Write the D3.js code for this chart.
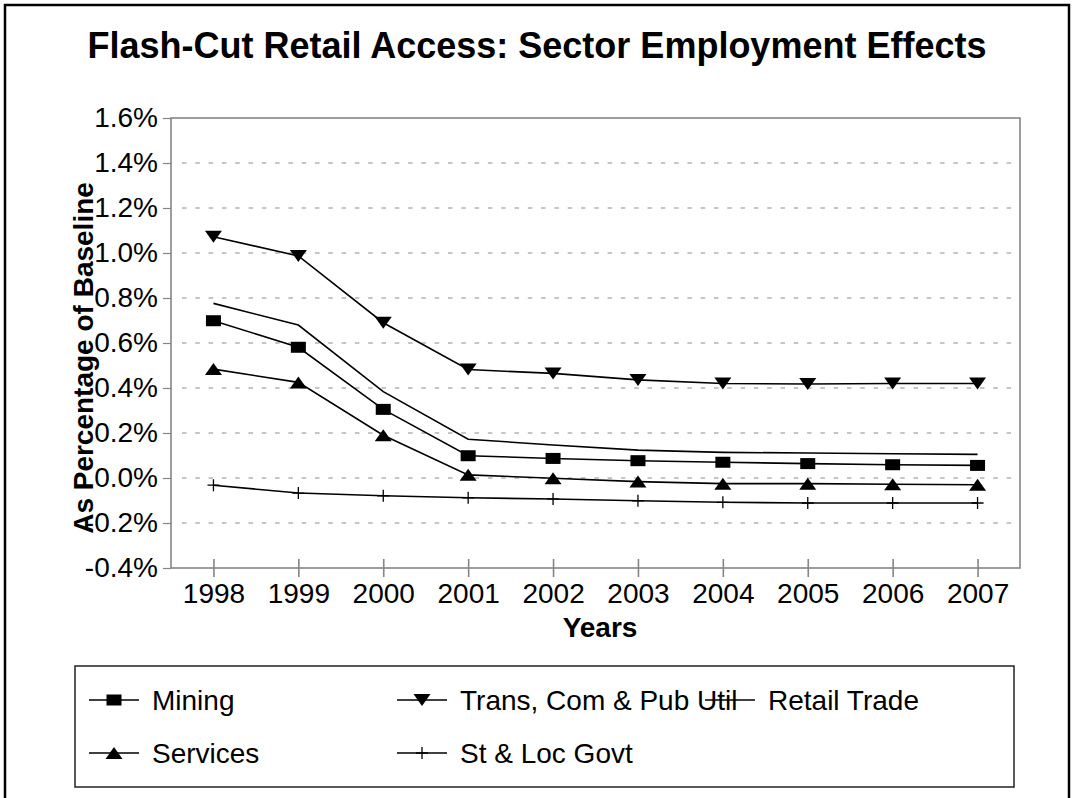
<!DOCTYPE html>
<html>
<head>
<meta charset="utf-8">
<script src="https://cdn.jsdelivr.net/npm/d3@7"></script>
<style>
  html, body { margin: 0; padding: 0; background: #ffffff; }
  svg { display: block; font-family: "Liberation Sans", Arial, Helvetica, sans-serif; }
</style>
</head>
<body>
<svg id="chart" width="1073" height="798"></svg>
<script>
// Sector employment effects, percent of baseline, 1998-2007
const years = ["1998", "1999", "2000", "2001", "2002", "2003", "2004", "2005", "2006", "2007"];
const mining   = [0.699, 0.581, 0.305, 0.099, 0.087, 0.077, 0.070, 0.064, 0.059, 0.056];
const transCom = [1.072, 0.987, 0.690, 0.482, 0.465, 0.436, 0.420, 0.418, 0.420, 0.420];
const retail   = [0.776, 0.680, 0.384, 0.172, 0.147, 0.124, 0.114, 0.111, 0.108, 0.105];
const services = [0.484, 0.425, 0.190, 0.014, -0.001, -0.016, -0.025, -0.025, -0.028, -0.030];
const stLoc    = [-0.032, -0.067, -0.079, -0.088, -0.093, -0.101, -0.108, -0.111, -0.111, -0.111];
const yTicks   = [-0.4, -0.2, 0.0, 0.2, 0.4, 0.6, 0.8, 1.0, 1.2, 1.4, 1.6];
const seriesNames = ["Mining", "Trans, Com & Pub Util", "Retail Trade", "Services", "St & Loc Govt"];
const seriesMarkers = ["square", "triDown", "none", "triUp", "plus"];
const seriesValues = [mining, transCom, retail, services, stLoc];

const svg = d3.select("#chart");
const plot = { left: 171, right: 1020, top: 118, bottom: 568 };
const axisGray = "#858585";
const labelSize = 28;

// Outer frame
svg.append("rect")
  .attr("x", 5).attr("y", 5).attr("width", 1064).attr("height", 820)
  .attr("fill", "#fff").attr("stroke", "#000").attr("stroke-width", 2.5);

// Title
svg.append("text")
  .attr("x", 537).attr("y", 58)
  .attr("text-anchor", "middle")
  .attr("font-weight", "bold").attr("font-size", 36)
  .text("Flash-Cut Retail Access: Sector Employment Effects");

const x = d3.scalePoint().domain(years).range([plot.left, plot.right]).padding(0.5);
const y = d3.scaleLinear().domain([-0.4, 1.6]).range([plot.bottom, plot.top]);

// Horizontal dashed gridlines
svg.append("g").selectAll("line")
  .data(yTicks.filter(v => v > -0.4 && v < 1.6))
  .join("line")
  .attr("x1", plot.left + 11).attr("x2", plot.right)
  .attr("y1", d => y(d)).attr("y2", d => y(d))
  .attr("stroke", "#8c8c8c").attr("stroke-width", 1)
  .attr("stroke-dasharray", "4.5,8.8");

// Plot frame
svg.append("rect")
  .attr("x", plot.left).attr("y", plot.top)
  .attr("width", plot.right - plot.left).attr("height", plot.bottom - plot.top)
  .attr("fill", "none").attr("stroke", axisGray).attr("stroke-width", 1.6);

// Y axis
const yAxis = svg.append("g")
  .attr("transform", `translate(${plot.left},0)`)
  .call(d3.axisLeft(y).tickValues(yTicks).tickSize(8).tickPadding(5)
    .tickFormat(v => v.toFixed(1) + "%"));
yAxis.select(".domain").remove();
yAxis.selectAll(".tick line").attr("stroke", axisGray).attr("stroke-width", 1.2);
yAxis.selectAll(".tick text")
  .attr("font-size", labelSize).attr("font-family", "Liberation Sans, Arial, sans-serif")
  .attr("fill", "#000");

// X axis (ticks cross the axis line)
const xAxis = svg.append("g")
  .attr("transform", `translate(0,${plot.bottom})`)
  .call(d3.axisBottom(x).tickSize(9).tickPadding(0));
xAxis.select(".domain").remove();
xAxis.selectAll(".tick line").attr("y1", -9).attr("y2", 9)
  .attr("stroke", axisGray).attr("stroke-width", 1.6);
xAxis.selectAll(".tick text")
  .attr("y", 35).attr("dy", 0)
  .attr("font-size", labelSize).attr("font-family", "Liberation Sans, Arial, sans-serif")
  .attr("fill", "#000");

// Axis titles
svg.append("text")
  .attr("x", 600).attr("y", 637)
  .attr("text-anchor", "middle")
  .attr("font-weight", "bold").attr("font-size", labelSize)
  .text("Years");
svg.append("text")
  .attr("transform", "translate(93,358) rotate(-90)")
  .attr("text-anchor", "middle")
  .attr("font-weight", "bold").attr("font-size", labelSize)
  .text("As Percentage of Baseline");

// Marker shapes
function drawMarker(g, kind, cx, cy) {
  if (kind === "square") {
    g.append("rect").attr("x", cx - 7.5).attr("y", cy - 5.5)
      .attr("width", 15).attr("height", 11).attr("fill", "#000");
  } else if (kind === "triDown") {
    g.append("path")
      .attr("d", `M${cx - 8.5},${cy - 6}L${cx + 8.5},${cy - 6}L${cx},${cy + 6}Z`)
      .attr("fill", "#000");
  } else if (kind === "triUp") {
    g.append("path")
      .attr("d", `M${cx - 8.5},${cy + 6}L${cx + 8.5},${cy + 6}L${cx},${cy - 6}Z`)
      .attr("fill", "#000");
  } else if (kind === "plus") {
    g.append("path")
      .attr("d", `M${cx - 6},${cy}L${cx + 6},${cy}M${cx},${cy - 6}L${cx},${cy + 6}`)
      .attr("stroke", "#000").attr("stroke-width", 1.3).attr("fill", "none");
  }
}

// Series lines and markers
const line = d3.line().x((d, i) => x(years[i])).y(d => y(d));
seriesValues.forEach((vals, s) => {
  const g = svg.append("g");
  g.append("path").datum(vals)
    .attr("d", line)
    .attr("fill", "none").attr("stroke", "#000").attr("stroke-width", 1.6);
  vals.forEach((v, i) => drawMarker(g, seriesMarkers[s], x(years[i]), y(v)));
});

// Legend
svg.append("rect")
  .attr("x", 75).attr("y", 666).attr("width", 939).attr("height", 121)
  .attr("fill", "none").attr("stroke", "#222").attr("stroke-width", 1.5);
const legendCols = [89, 397, 705];
const legendRows = [700, 753];
seriesNames.forEach((name, i) => {
  const lx = legendCols[i % 3];
  const ly = legendRows[Math.floor(i / 3)];
  const g = svg.append("g");
  g.append("line").attr("x1", lx).attr("x2", lx + 50).attr("y1", ly).attr("y2", ly)
    .attr("stroke", "#000").attr("stroke-width", 1.6);
  drawMarker(g, seriesMarkers[i], lx + 25, ly);
  g.append("text").attr("x", lx + 63).attr("y", ly + 10)
    .attr("font-size", labelSize).text(name);
});
</script>
</body>
</html>
